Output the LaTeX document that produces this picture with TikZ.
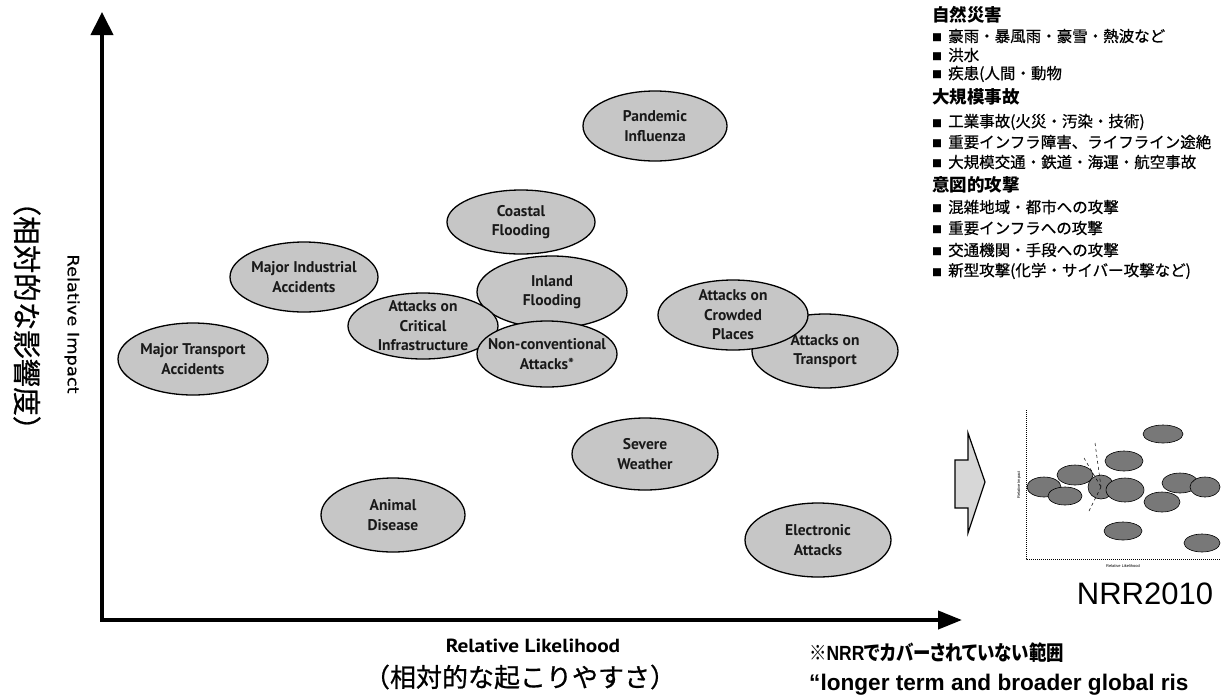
\documentclass[tikz,border=0pt]{standalone}
\usepackage{fontspec}
\setmainfont{Liberation Sans}
\newfontfamily\jpfont{Noto Sans CJK JP}
\newfontfamily\jpmed[FakeBold=0.7]{Noto Sans CJK JP}
\newfontfamily\jpprop[RawFeature=+palt]{Noto Sans CJK JP}
\newfontfamily\ptsans{PT Sans}
\newfontfamily\djsans[FakeBold=0.6]{DejaVu Sans}
\usetikzlibrary{arrows.meta}

\definecolor{riskgray}{RGB}{198,198,198}
\definecolor{thumbgray}{RGB}{120,120,120}
\definecolor{arrowgray}{RGB}{215,215,215}

\newcommand\risklab{\ptsans\bfseries\fontsize{15.5}{19.5}\selectfont}
\newcommand\sqbullet{{\jpfont\fontsize{10}{10}\selectfont ■}\hspace{6pt}}

% one risk: ellipse outline plus a named label node
% #1 name, #2 x, #3 y, #4 half width, #5 half height, #6 text
\newcommand\risk[6]{%
  \path[riskshape] (#2,#3) ellipse [x radius=#4, y radius=#5];
  \node[risklabel] (#1) at (#2,#3) {#6};}

% small ellipse of the NRR2010 thumbnail
\newcommand\thumbrisk[5]{%
  \path[thumbshape] (#2,#3) ellipse [x radius=#4, y radius=#5];
  \coordinate (#1) at (#2,#3);}

\begin{document}
\begin{tikzpicture}[x=1pt,y=-1pt,
  riskshape/.style={fill=riskgray,draw=black,line width=1.3pt},
  risklabel/.style={align=center,font=\risklab,text=black!90,inner sep=0pt},
  axisline/.style={line width=4pt,line join=miter,black},
  leghead/.style={anchor=west,inner sep=0pt,font=\jpfont\bfseries\fontsize{17.5}{17.5}\selectfont},
  legitem/.style={anchor=west,inner sep=0pt,font=\jpmed\fontsize{15.5}{15.5}\selectfont},
  blockarrow/.style={fill=arrowgray,draw=black,line width=1.2pt,line join=miter},
  thumbshape/.style={fill=thumbgray,draw=black,line width=0.6pt},
  thumbaxis/.style={densely dotted,line width=1pt},
  thumblead/.style={dashed,line width=0.5pt},
  tinylab/.style={inner sep=0pt,font=\fontsize{4}{4}\selectfont}]
\useasboundingbox (0,0) rectangle (1226,697);

% ---- axes -------------------------------------------------------------
\coordinate (ytip) at (102,12);
\coordinate (origin) at (102,620);
\coordinate (xtip) at (962,620);
\draw[axisline,
  arrows={Triangle[length=23pt,width=22pt]-Triangle[length=24pt,width=18pt]}]
  (ytip) -- (origin) -- (xtip);

\node[rotate=-90,inner sep=0pt] (yen) at (72,324)
  {\scalebox{1.15}[1]{\djsans\fontsize{15.5}{15.5}\selectfont Relative Impact}};
\node[rotate=-90,inner sep=0pt] (yjp) at (27,316)
  {\jpmed\fontsize{28.5}{28.5}\selectfont （相対的な影響度）};
\node[inner sep=0pt] (xen) at (533,646)
  {\scalebox{1.12}[1]{\ptsans\bfseries\fontsize{19}{19}\selectfont Relative Likelihood}};
\node[inner sep=0pt] (xjp) at (520,677)
  {\jpmed\fontsize{26}{26}\selectfont （相対的な起こりやすさ）};

% ---- risks --------------------------------------------------------------
\risk{pand}{655}{126}{72}{35}{Pandemic\\Influenza}
\risk{coast}{521}{222}{74}{32}{Coastal\\Flooding}
\risk{indus}{304}{277}{74}{35}{Major Industrial\\Accidents}
\risk{inland}{552}{292}{75}{36}{Inland\\Flooding}
\risk{crit}{423}{326}{75}{33}{Attacks on\\Critical\\Infrastructure}
\risk{noncon}{547}{354}{70}{33}{Non-conventional\\Attacks*}
\risk{transp}{825}{351}{73}{37}{Attacks on\\Transport}
\risk{crowd}{733}{315}{75}{35}{Attacks on\\Crowded\\Places}
\risk{mtrans}{193}{359}{75}{36}{Major Transport\\Accidents}
\risk{severe}{645}{454}{73}{36}{Severe\\Weather}
\risk{animal}{393}{515}{72}{37}{Animal\\Disease}
\risk{elec}{818}{540}{73}{37}{Electronic\\Attacks}

% ---- legend -------------------------------------------------------------
\node[leghead] (h1) at (932,15) {自然災害};
\node[legitem] (a1) at (932,36) {\sqbullet 豪雨・暴風雨・豪雪・熱波など};
\node[legitem] (a2) at (932,55) {\sqbullet 洪水};
\node[legitem] (a3) at (932,74) {\sqbullet 疾患(人間・動物};
\node[leghead] (h2) at (932,97) {大規模事故};
\node[legitem] (b1) at (932,122) {\sqbullet 工業事故(火災・汚染・技術)};
\node[legitem] (b2) at (932,142) {\sqbullet 重要インフラ障害、ライフライン途絶};
\node[legitem] (b3) at (932,162) {\sqbullet 大規模交通・鉄道・海運・航空事故};
\node[leghead] (h3) at (932,185) {意図的攻撃};
\node[legitem] (c1) at (932,207) {\sqbullet 混雑地域・都市への攻撃};
\node[legitem] (c2) at (932,228) {\sqbullet 重要インフラへの攻撃};
\node[legitem] (c3) at (932,250) {\sqbullet 交通機関・手段への攻撃};
\node[legitem] (c4) at (932,271) {\sqbullet 新型攻撃(化学・サイバー攻撃など)};

% ---- block arrow towards the thumbnail ---------------------------------
\draw[blockarrow] (955,460) -- (968,460) -- (968,433) -- (985,482)
  -- (968,533) -- (968,508) -- (955,508) -- cycle;

% ---- NRR2010 thumbnail --------------------------------------------------
\coordinate (ttop) at (1026,410);
\coordinate (torig) at (1026,559);
\coordinate (tright) at (1220,559);
\draw[thumbaxis] (ttop) -- (torig) -- (tright);
\node[tinylab,rotate=90] (tyl) at (1019,485) {Relative Impact};
\node[tinylab] (txl) at (1123,566) {Relative Likelihood};

\thumbrisk{t1}{1163}{434}{20}{9}
\thumbrisk{t2}{1124}{461}{19}{10}
\thumbrisk{t3}{1075}{475}{18}{10}
\thumbrisk{t4}{1044}{487}{17}{10}
\thumbrisk{t5}{1065}{496}{17}{9}
\thumbrisk{t6}{1101}{487}{13}{12}
\thumbrisk{t7}{1125}{490}{19}{12}
\thumbrisk{t8}{1162}{502}{18}{10}
\thumbrisk{t9}{1180}{483}{18}{10}
\thumbrisk{t10}{1205}{487}{15}{10}
\thumbrisk{t11}{1123}{531}{19}{9}
\thumbrisk{t12}{1202}{543}{18}{9}
\coordinate (q1) at (1095,443);
\coordinate (q2) at (1084,458);
\coordinate (q3) at (1089,511);
\draw[thumblead] (q1) -- (t6);
\draw[thumblead] (q2) -- (t6);
\draw[thumblead] (q3) -- (t6);

\node[inner sep=0pt] (nrr) at (1145,594)
  {\fontsize{31}{31}\selectfont NRR2010};

% ---- notes --------------------------------------------------------------
\node[anchor=west,inner sep=0pt] (note1) at (809,653)
  {\scalebox{0.85}[1]{\bfseries\fontsize{20.5}{20.5}\selectfont{\jpprop ※}NRR{\jpprop でカバーされていない範囲}}};
\node[anchor=west,inner sep=0pt] (note2) at (809,685)
  {\bfseries\fontsize{22.6}{22.6}\selectfont “longer term and broader global ris};
\end{tikzpicture}
\end{document}
